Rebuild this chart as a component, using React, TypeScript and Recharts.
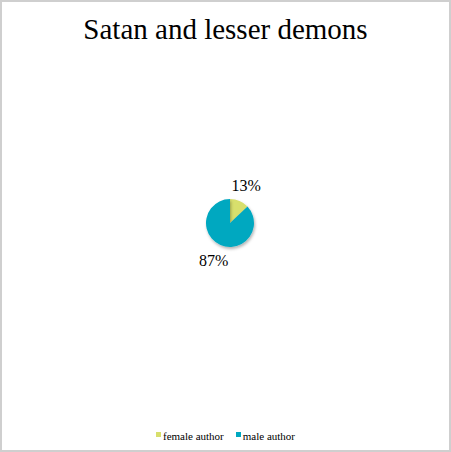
import React from 'react';
import { PieChart, Pie, Cell, Legend } from 'recharts';

const categories = ['female author', 'male author'];
const shares = [13, 87];
const COLORS = ['#d8df6c', '#00a8c0'];

const data = categories.map((name, i) => ({ name, value: shares[i] }));

const RADIAN = Math.PI / 180;

const renderLabel = (props: any) => {
  const { cx, cy, midAngle, outerRadius, percent } = props;
  const r = outerRadius + 17;
  const x = cx + r * Math.cos(-midAngle * RADIAN);
  const y = cy + r * Math.sin(-midAngle * RADIAN);
  return (
    <text
      x={x}
      y={y}
      fill="#000"
      textAnchor="middle"
      dominantBaseline="central"
      fontSize={16}
      fontFamily="'Liberation Serif', serif"
    >
      {`${Math.round(percent * 100)}%`}
    </text>
  );
};

const renderLegend = () => (
  <div
    style={{
      display: 'flex',
      justifyContent: 'center',
      gap: 12,
      fontFamily: "'Liberation Serif', serif",
      fontSize: 11,
      color: '#000',
    }}
  >
    {data.map((d, i) => (
      <span key={d.name} style={{ display: 'flex', alignItems: 'center' }}>
        <span
          style={{
            width: 5,
            height: 5,
            background: COLORS[i],
            display: 'inline-block',
            marginRight: 2,
            marginTop: -3,
          }}
        />
        {d.name}
      </span>
    ))}
  </div>
);

export default function App() {
  return (
    <div
      style={{
        position: 'absolute',
        left: 0,
        top: 0,
        width: 451,
        height: 452,
        boxSizing: 'border-box',
        border: '2px solid #cfcfcf',
        background: '#fff',
      }}
    >
      <div
        style={{
          position: 'absolute',
          top: 11,
          left: 0,
          width: '100%',
          textAlign: 'center',
          fontFamily: "'Liberation Serif', serif",
          fontSize: 29,
          color: '#000',
        }}
      >
        Satan and lesser demons
      </div>
      <div style={{ position: 'absolute', left: -2, top: -2 }}>
        <PieChart width={451} height={452}>
          <defs>
            <filter id="pieShadow" x="-30%" y="-30%" width="160%" height="160%">
              <feDropShadow dx="1" dy="2" stdDeviation="1.5" floodColor="#000" floodOpacity="0.3" />
            </filter>
          </defs>
          <Pie
            data={data}
            dataKey="value"
            nameKey="name"
            cx={225}
            cy={218}
            outerRadius={24}
            startAngle={90}
            endAngle={-270}
            stroke="none"
            label={renderLabel}
            labelLine={false}
            isAnimationActive={false}
            style={{ filter: 'url(#pieShadow)' }}
          >
            {data.map((d, i) => (
              <Cell key={d.name} fill={COLORS[i]} />
            ))}
          </Pie>
          <Legend
            verticalAlign="bottom"
            content={renderLegend}
            wrapperStyle={{ bottom: 10 }}
          />
        </PieChart>
      </div>
    </div>
  );
}
